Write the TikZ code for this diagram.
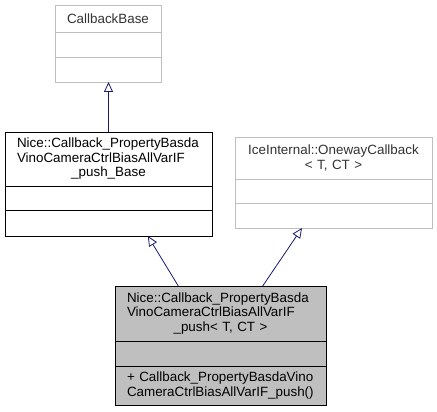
\documentclass[tikz,border=0pt]{standalone}
\usepackage{fontspec}
\setmainfont{Liberation Sans}
\usepackage{tikz}
\usetikzlibrary{positioning,calc,arrows.meta}
\definecolor{edgeblue}{HTML}{191970}
\definecolor{extgray}{HTML}{BFBFBF}
\tikzset{
  umlfont/.style={font=\fontsize{13.4}{14.5}\selectfont},
  umlbox/.style={draw, line width=0.8pt, outer sep=0pt, fill=white, anchor=north west, inner xsep=12pt, inner ysep=0pt, align=left},
  umlboxext/.style={umlbox, draw=extgray, text=black!80},
  umlboxcur/.style={umlbox, fill=extgray},
  umlpart/.style={draw, line width=0.8pt, outer sep=0pt, fill=white, inner sep=0pt},
  umlpartext/.style={umlpart, draw=extgray},
  umlpartcur/.style={umlpart, fill=extgray},
  umlarrow/.style={draw=edgeblue, line width=0.8pt, -{Triangle[length=10pt, width=9pt, fill=white]}},
}
\begin{document}
\begin{tikzpicture}[umlfont, x=1pt, y=-1pt]
  \useasboundingbox (0,0) rectangle (437,412);
  % external base class
  \node[umlboxext, minimum width=106pt, minimum height=27pt, text width=82pt, align=center] (cbase) at (55,5)
  {CallbackBase};
  \node[umlpartext, below=0pt of cbase, minimum width=106pt, minimum height=25pt] (cbase-attr) {};
  \node[umlpartext, below=0pt of cbase-attr, minimum width=106pt, minimum height=25pt] (cbase-ops) {};

  % generated base class
  \node[umlbox, minimum width=207pt, minimum height=54pt, text width=183pt] (base) at (5,132)
  {Nice::Callback\_PropertyBasda\\VinoCameraCtrlBiasAllVarIF\\\makebox[\linewidth]{\_push\_Base}};
  \node[umlpart, below=0pt of base, minimum width=207pt, minimum height=24pt] (base-attr) {};
  \node[umlpart, below=0pt of base-attr, minimum width=207pt, minimum height=26pt] (base-ops) {};

  % external template
  \node[umlboxext, minimum width=197pt, minimum height=42pt, text width=173pt, align=center] (ice) at (235,137)
  {IceInternal::OnewayCallback\\< T, CT >};
  \node[umlpartext, below=0pt of ice, minimum width=197pt, minimum height=24pt] (ice-attr) {};
  \node[umlpartext, below=0pt of ice-attr, minimum width=197pt, minimum height=25pt] (ice-ops) {};

  % this class
  \node[umlboxcur, minimum width=211pt, minimum height=55pt, text width=187pt] (push) at (115,286)
  {Nice::Callback\_PropertyBasda\\VinoCameraCtrlBiasAllVarIF\\\makebox[\linewidth]{\_push< T, CT >}};
  \node[umlpartcur, below=0pt of push, minimum width=211pt, minimum height=25pt] (push-attr) {};
  \node[umlpartcur, below=0pt of push-attr, minimum width=211pt, minimum height=39pt, inner xsep=12pt, text width=187pt, align=left] (push-ops)
  {+ Callback\_PropertyBasdaVino\\CameraCtrlBiasAllVarIF\_push()};

  % inheritance arrows
  \draw[umlarrow] ($(push.north west)!0.3!(push.north east)$) -- ($(base-ops.south west)!0.69!(base-ops.south east)$);
  \draw[umlarrow] ($(push.north west)!0.7!(push.north east)$) -- ($(ice-ops.south west)!0.34!(ice-ops.south east)$);
  \draw[umlarrow] (base.north) -- (base.north |- cbase-ops.south);
\end{tikzpicture}
\end{document}
